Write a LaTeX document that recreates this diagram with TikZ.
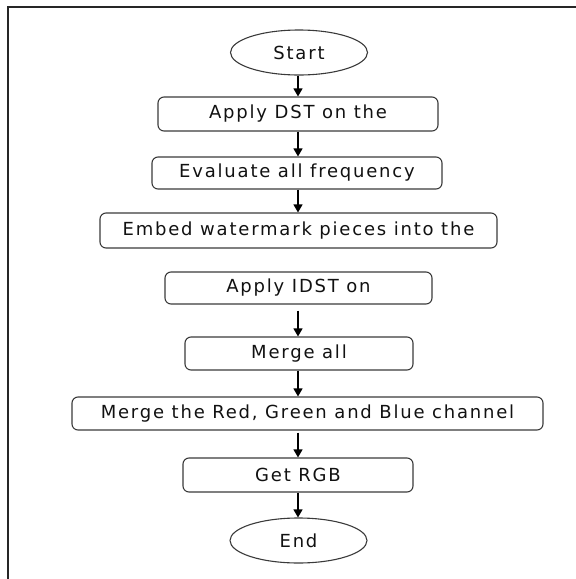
\documentclass[tikz,border=0pt]{standalone}
\usepackage{fontspec}
\setmainfont{DejaVu Sans}[LetterSpace=10]
\usetikzlibrary{arrows.meta,shapes.geometric}
\definecolor{edge}{HTML}{3A3A3A}
\definecolor{ink}{HTML}{111111}
\tikzset{
  label text/.style={font=\fontsize{18}{21}\selectfont, text=ink},
  stepbox/.style={draw=edge, line width=1.1pt, rounded corners=6pt,
    inner sep=0pt, label text},
  terminal/.style={draw=edge, line width=1.1pt, ellipse, inner sep=0pt,
    minimum width=137pt, minimum height=45pt, label text},
  flow/.style={draw=black, line width=1.2pt, -{Triangle[length=8pt,width=9pt]}},
  frame/.style={draw=black!85, line width=1.5pt}
}
\begin{document}
\begin{tikzpicture}[x=1pt,y=-1pt]
  \useasboundingbox (0,0) rectangle (576,579);
  % page frame, top and left edges only
  \draw[frame] (576,7) -- (8,7) -- (8,579);

  \node[terminal] (start) at (299,52.5) {Start};
  \node[stepbox, minimum width=280pt, minimum height=34pt] (dst) at (298,114) {Apply DST on the};
  \node[stepbox, minimum width=290pt, minimum height=32pt] (eval) at (297,173) {Evaluate all frequency};
  \node[stepbox, minimum width=397pt, minimum height=35pt] (embed) at (298.5,230.5) {Embed watermark pieces into the};
  \node[stepbox, minimum width=267pt, minimum height=32pt] (idst) at (298.5,288) {Apply IDST on};
  \node[stepbox, minimum width=228pt, minimum height=33pt] (mall) at (299,353.5) {Merge all};
  \node[stepbox, minimum width=471pt, minimum height=33pt] (mrgb) at (307.5,413.5) {Merge the Red, Green and Blue channel};
  \node[stepbox, minimum width=230pt, minimum height=34pt] (rgb) at (298,475) {Get RGB};
  \node[terminal] (end) at (298.5,540.5) {End};

  \coordinate (ax) at (298,0);
  \draw[flow] (start.south -| ax) -- (dst.north -| ax);
  \draw[flow] (dst.south -| ax) -- (eval.north -| ax);
  \draw[flow] (eval.south -| ax) -- (embed.north -| ax);
  \draw[flow, shorten <=6pt] (idst.south -| ax) -- (mall.north -| ax);
  \draw[flow] (mall.south -| ax) -- (mrgb.north -| ax);
  \draw[flow, shorten <=2pt] (mrgb.south -| ax) -- (rgb.north -| ax);
  \draw[flow] (rgb.south -| ax) -- (end.north -| ax);
\end{tikzpicture}
\end{document}
